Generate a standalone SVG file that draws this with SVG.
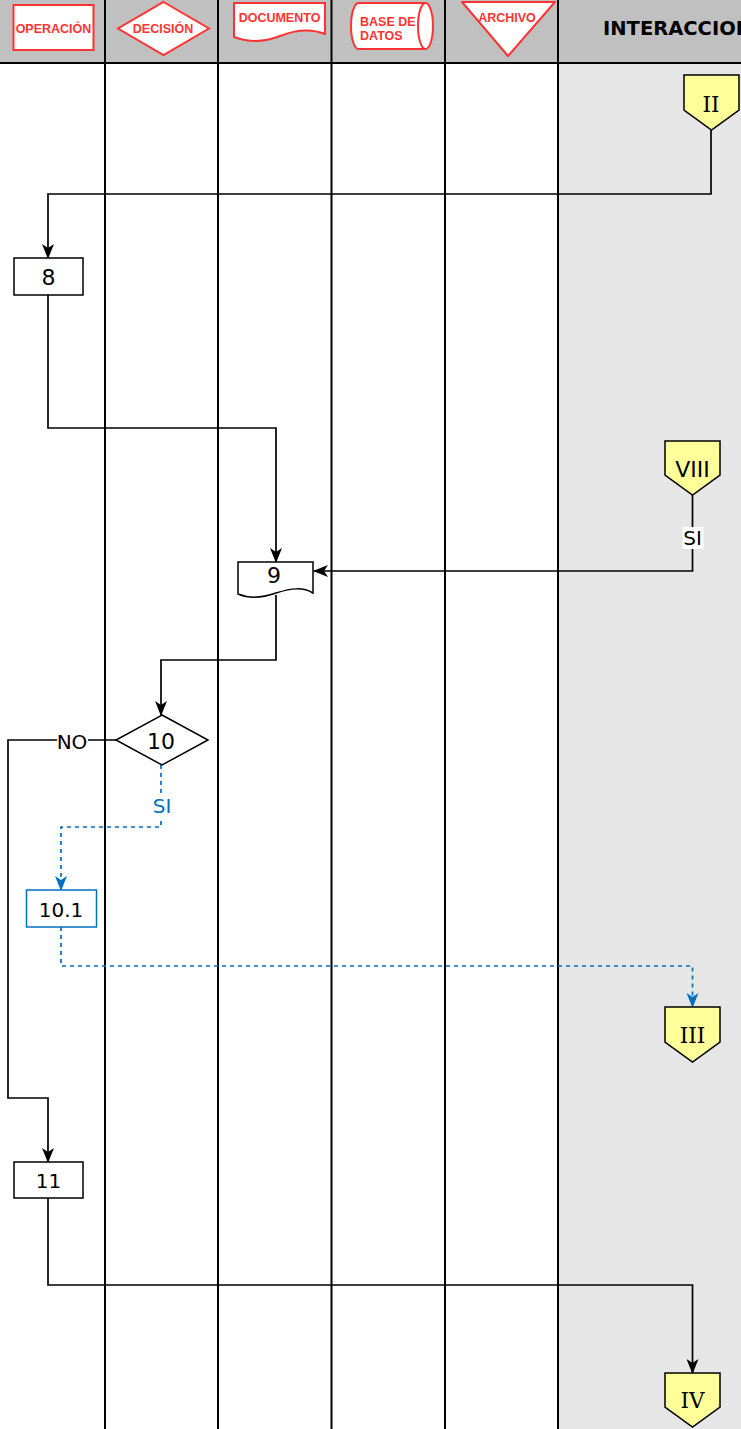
<svg xmlns="http://www.w3.org/2000/svg" width="741" height="1429" viewBox="0 0 741 1429">
<style>
.hdr{fill:#fff;stroke:#ff3333;stroke-width:2}
.ht{fill:#ff3333;font-family:"Liberation Sans",Arial,sans-serif;font-weight:bold;font-size:12.5px}
.lane{stroke:#000;stroke-width:2;fill:none}
.node{fill:#fff;stroke:#000;stroke-width:1.5}
.off{fill:#ffff99;stroke:#000;stroke-width:1.5}
.nt{font-family:"DejaVu Sans",Verdana,sans-serif;font-size:22px;fill:#000;text-anchor:middle}
.nt.ns{font-size:20px}
.lt{font-family:"DejaVu Sans",Verdana,sans-serif;font-size:20px;fill:#000;text-anchor:middle}
.st{font-family:"DejaVu Serif",serif;font-size:21.5px;fill:#000;text-anchor:middle}
.c{fill:none;stroke:#000;stroke-width:1.7}
.cb{fill:none;stroke:#0070c0;stroke-width:1.7;stroke-dasharray:4 4}
</style>
<defs>
<marker id="ab" viewBox="0 0 15 12" refX="14" refY="6" markerWidth="15" markerHeight="12" markerUnits="userSpaceOnUse" orient="auto">
<path d="M0,0 L15,6 L0,12 L4,6 Z" fill="#000"/>
</marker>
<marker id="abb" viewBox="0 0 15 12" refX="14" refY="6" markerWidth="15" markerHeight="12" markerUnits="userSpaceOnUse" orient="auto">
<path d="M0,0 L15,6 L0,12 L4,6 Z" fill="#0070c0"/>
</marker>
</defs>
<rect x="0" y="0" width="741" height="1429" fill="#fff"/>
<rect x="558" y="63" width="183" height="1366" fill="#e6e6e6"/>
<rect x="0" y="0" width="741" height="63" fill="#c0c0c0"/>
<g id="lanes">
<line class="lane" x1="0" y1="63" x2="741" y2="63"/>
<line class="lane" x1="105" y1="0" x2="105" y2="1429"/>
<line class="lane" x1="218" y1="0" x2="218" y2="1429"/>
<line class="lane" x1="331.5" y1="0" x2="331.5" y2="1429"/>
<line class="lane" x1="445" y1="0" x2="445" y2="1429"/>
<line class="lane" x1="558" y1="0" x2="558" y2="1429"/>
</g>
<g id="header">
<g id="h-operacion"><rect class="hdr" x="13.5" y="5" width="80" height="45"/><text class="ht" x="53.5" y="33" text-anchor="middle">OPERACIÓN</text></g>
<g id="h-decision"><path class="hdr" d="M163.5,2 L209,28.5 L163.5,55 L118,28.5 Z"/><text class="ht" x="163" y="33" text-anchor="middle">DECISIÓN</text></g>
<g id="h-documento"><path class="hdr" d="M234,3 H325 V34 C310,28 295,30 280,36 C265,42 250,43 234,37 Z"/><text class="ht" x="279.5" y="21.5" text-anchor="middle">DOCUMENTO</text></g>
<g id="h-bd"><path class="hdr" d="M358.5,3 H425.5 A7.5,23 0 0 1 425.5,49 H358.5 A7.5,23 0 0 1 358.5,3 Z"/><path d="M425.5,3 A7.5,23 0 0 0 425.5,49" fill="none" stroke="#ff3333" stroke-width="2"/><text class="ht" x="360" y="25.5">BASE DE</text><text class="ht" x="360" y="40">DATOS</text></g>
<g id="h-archivo"><path class="hdr" d="M462,2 H555 L508,56 Z" stroke-linejoin="round"/><text class="ht" x="507" y="21.5" text-anchor="middle" font-weight="normal">ARCHIVO</text></g>
<text x="603" y="35" font-family="DejaVu Sans,Verdana,sans-serif" font-weight="bold" font-size="19.5" fill="#000">INTERACCIONES</text>
</g>
<g id="connectors">
<path class="c" d="M711,130 V194 H48 V258" marker-end="url(#ab)"/>
<path class="c" d="M48,295 V428 H276 V562" marker-end="url(#ab)"/>
<path class="c" d="M692.5,495 V571 H314" marker-end="url(#ab)"/>
<path class="c" d="M276,595 V660 H161 V715" marker-end="url(#ab)"/>
<path class="c" d="M116,740 H8 V1098 H48 V1162" marker-end="url(#ab)"/>
<path class="cb" d="M161,765 V827 H61 V890" marker-end="url(#abb)"/>
<path class="cb" d="M61,927 V966 H692.5 V1007" marker-end="url(#abb)"/>
<path class="c" d="M48,1198 V1285 H692.5 V1373" marker-end="url(#ab)"/>
<rect x="682.5" y="527" width="21" height="22" fill="#fff"/>
<text class="lt" x="692.5" y="545">SI</text>
<rect x="57" y="731" width="31" height="21" fill="#fff"/>
<text class="lt" x="72" y="749">NO</text>
<rect x="151" y="795" width="22" height="22" fill="#fff"/>
<text class="lt" x="162" y="813" style="fill:#0070c0">SI</text>
</g>
<g id="n-II"><path class="off" d="M684,75 H739 V110 L711.5,130 L684,110 Z"/><text class="st" x="711" y="112">II</text></g>
<g id="n-8"><rect class="node" x="14" y="258" width="69" height="37"/><text class="nt" x="48.5" y="285">8</text></g>
<g id="n-VIII"><path class="off" d="M665,441 H720 V475 L692.5,495 L665,475 Z"/><text class="nt" x="692.5" y="477" font-size="22.5">VIII</text></g>
<g id="n-9"><path class="node" d="M238,562 H313 V593 C303,587 292,588 276,593 C262,598 250,599 238,594 Z"/><text class="nt" x="274" y="583">9</text></g>
<g id="n-10"><path class="node" d="M162,715 L208,740 L162,765 L116,740 Z"/><text class="nt" x="161" y="749">10</text></g>
<g id="n-10-1"><rect class="node" x="26.5" y="890" width="70" height="37" style="stroke:#0070c0"/><text class="nt ns" x="61" y="917">10.1</text></g>
<g id="n-III"><path class="off" d="M665,1007 H720 V1042 L692.5,1062 L665,1042 Z"/><text class="st" x="692.5" y="1043">III</text></g>
<g id="n-11"><rect class="node" x="14" y="1162" width="69" height="36"/><text class="nt ns" x="48.5" y="1188">11</text></g>
<g id="n-IV"><path class="off" d="M665,1373 H720 V1407 L692.5,1427 L665,1407 Z"/><text class="st" x="692.5" y="1408">IV</text></g>
</svg>
